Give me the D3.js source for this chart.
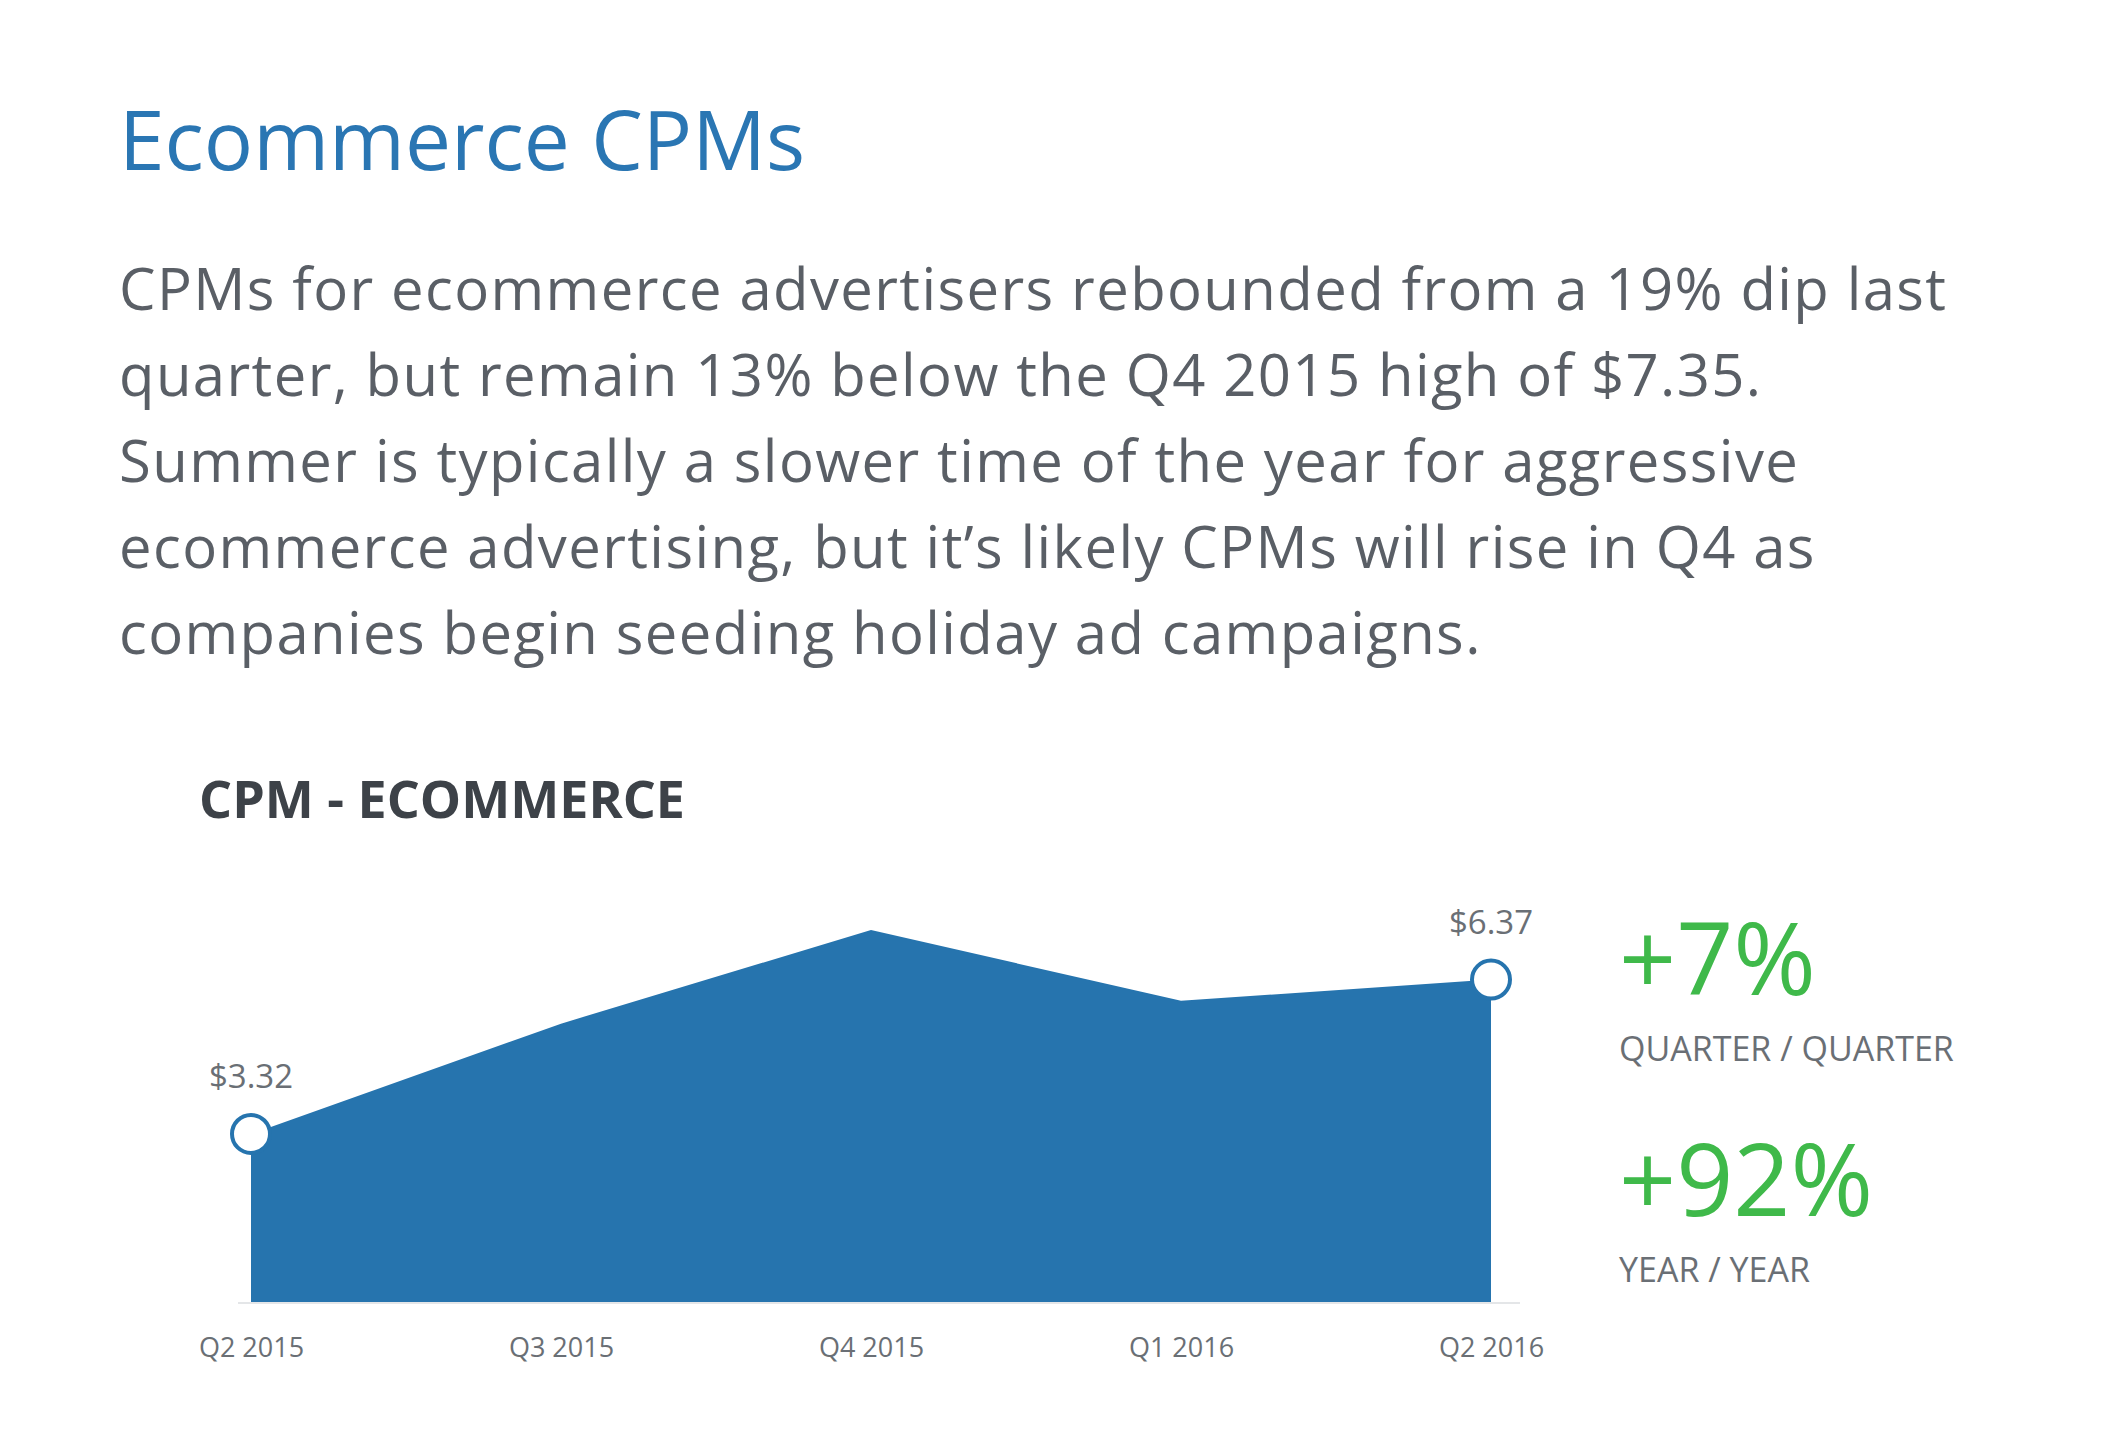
<!DOCTYPE html>
<html><head><meta charset="utf-8">
<script src="https://cdn.jsdelivr.net/npm/d3@7"></script>
<style>body{margin:0;background:#fff}svg{display:block}</style></head>
<body><svg id="c" width="2112" height="1438"></svg>
<script>
const categories = ["Q2 2015","Q3 2015","Q4 2015","Q1 2016","Q2 2016"];
const cpm = [3.32, 5.5, 7.35, 5.95, 6.37];
const paragraph = [
 "CPMs for ecommerce advertisers rebounded from a 19% dip last",
 "quarter, but remain 13% below the Q4 2015 high of $7.35.",
 "Summer is typically a slower time of the year for aggressive",
 "ecommerce advertising, but it\u2019s likely CPMs will rise in Q4 as",
 "companies begin seeding holiday ad campaigns."];
const stats = [{v:"+7%",l:"QUARTER / QUARTER"},{v:"+92%",l:"YEAR / YEAR"}];

const svg = d3.select("#c");
const F = "'Open Sans', 'Noto Sans', sans-serif";
svg.append("text").attr("x",119).attr("y",170).attr("font-family",F).attr("font-size",82)
  .attr("fill","#2a76b3").text("Ecommerce CPMs");
svg.append("g").selectAll("text").data(paragraph).join("text")
  .attr("x",119).attr("y",(d,i)=>310+i*86).attr("font-family",F).attr("font-size",58)
  .attr("letter-spacing",1.4).attr("fill","#5a5f66").text(d=>d);
svg.append("text").attr("x",199).attr("y",818).attr("font-family",F).attr("font-weight",700)
  .attr("font-size",52).attr("fill","#3d4248").text("CPM - ECOMMERCE");

const x = d3.scalePoint().domain(categories).range([251,1491]);
const y = d3.scaleLinear().domain([0,7.35]).range([1302,930]);
const data = categories.map((c,i)=>({c,v:cpm[i]}));
svg.append("line").attr("x1",238).attr("x2",1520).attr("y1",y(0)+1).attr("y2",y(0)+1)
  .attr("stroke","#e4e6e8").attr("stroke-width",2);
svg.append("path").datum(data).attr("fill","#2674ae")
  .attr("d",d3.area().x(d=>x(d.c)).y0(y(0)).y1(d=>y(d.v)));
const ax = svg.append("g").attr("transform",`translate(0,${y(0)})`)
  .call(d3.axisBottom(x).tickSize(0).tickPadding(36));
ax.select(".domain").remove();
ax.selectAll("text").attr("font-family",F).attr("font-size",27).attr("fill","#6a6f75");
const ends=[data[0],data[4]];
svg.selectAll(".pt").data(ends).join("circle").attr("cx",d=>x(d.c)).attr("cy",d=>y(d.v))
  .attr("r",19).attr("fill","#fff").attr("stroke","#2674ae").attr("stroke-width",4);
svg.selectAll(".lb").data(ends).join("text").attr("x",d=>x(d.c)).attr("y",d=>y(d.v)-46)
  .attr("text-anchor","middle").attr("font-family",F).attr("font-size",33).attr("fill","#6a6f75")
  .text(d=>"$"+d.v.toFixed(2));
const sg = svg.append("g").selectAll("g").data(stats).join("g")
  .attr("transform",(d,i)=>`translate(1619,${995+i*221})`);
sg.append("text").attr("font-family",F).attr("font-size",100).attr("fill","#3fb94a").text(d=>d.v);
sg.append("text").attr("y",66).attr("font-family",F).attr("font-size",34).attr("fill","#6a6f75").text(d=>d.l);
</script></body></html>
